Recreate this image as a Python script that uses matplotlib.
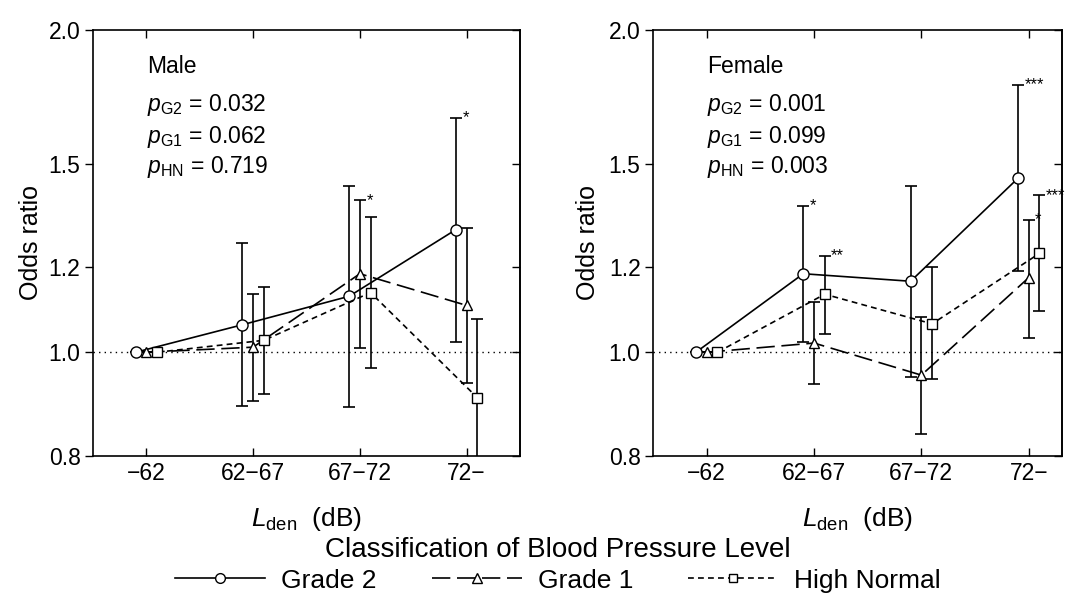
import numpy as np
import matplotlib
matplotlib.use("Agg")
import matplotlib.pyplot as plt
from matplotlib.ticker import FixedLocator, FormatStrFormatter, NullLocator
from matplotlib.lines import Line2D

plt.rcParams['font.family'] = ['Liberation Sans', 'DejaVu Sans']
plt.rcParams['mathtext.fontset'] = 'custom'
plt.rcParams['mathtext.rm'] = 'Liberation Sans'
plt.rcParams['mathtext.it'] = 'Liberation Sans:italic'

# -------------------------------------------
# data (odds ratios)
# -------------------------------------------
categories = ["\u221262", "62\u221267", "67\u221272", "72\u2212"]
series_names = ["Grade 2", "Grade 1", "High Normal"]

# Male
male_g2 = [1.0, 1.061, 1.128, 1.302]
male_g2_lo = [1.0, 0.891, 0.889, 1.022]
male_g2_hi = [1.0, 1.264, 1.431, 1.656]
male_g1 = [1.0, 1.011, 1.184, 1.106]
male_g1_lo = [1.0, 0.901, 1.009, 0.936]
male_g1_hi = [1.0, 1.133, 1.386, 1.307]
male_hn = [1.0, 1.026, 1.137, 0.907]
male_hn_lo = [1.0, 0.914, 0.966, 0.70]
male_hn_hi = [1.0, 1.150, 1.337, 1.073]
male_stars = [["", "", "", "*"], ["", "", "*", ""], ["", "", "", ""]]
male_p = ["0.032", "0.062", "0.719"]

# Female
female_g2 = [1.0, 1.184, 1.165, 1.454]
female_g2_lo = [1.0, 1.022, 0.948, 1.191]
female_g2_hi = [1.0, 1.371, 1.431, 1.776]
female_g1 = [1.0, 1.020, 0.952, 1.174]
female_g1_lo = [1.0, 0.934, 0.839, 1.032]
female_g1_hi = [1.0, 1.114, 1.079, 1.330]
female_hn = [1.0, 1.133, 1.063, 1.237]
female_hn_lo = [1.0, 1.039, 0.944, 1.093]
female_hn_hi = [1.0, 1.231, 1.201, 1.401]
female_stars = [["", "*", "", "***"], ["", "", "", "*"], ["", "**", "", "***"]]
female_p = ["0.001", "0.099", "0.003"]

y_ticks = [0.8, 1.0, 1.2, 1.5, 2.0]

# styles
offsets = [-0.1, 0.0, 0.1]
markers = ['o', '^', 's']
msizes = [8, 7.5, 7]
dash_styles = ['-', (0, (11, 4)), (0, (3.5, 2.5))]
lw = 1.2

fig_w, fig_h = 1071, 605
ax_top, ax_bot = 30, 456


def draw_panel(ax, means, los, his, stars, pvals, title, xmax, width_px, ylab_x):
    x = np.arange(len(categories))
    for i in range(3):
        xs = x + offsets[i]
        m = np.array(means[i])
        lo = np.array(los[i])
        hi = np.array(his[i])
        ax.errorbar(xs, m, yerr=[m - lo, hi - m], fmt='none', ecolor='k',
                    elinewidth=lw, capsize=4.5, capthick=lw, zorder=2)
        ax.plot(xs, m, color='k', lw=lw, linestyle=dash_styles[i],
                marker=markers[i], markersize=msizes[i], markerfacecolor='white',
                markeredgecolor='k', markeredgewidth=1.0, zorder=3)
        for j, s in enumerate(stars[i]):
            if s:
                ax.text(xs[j] + 0.06, hi[j] * 0.991, s, fontsize=12,
                        ha='left', va='baseline')

    ax.axhline(1.0, color='k', lw=1.0, linestyle=(0, (1, 3)), zorder=1)

    ax.set_yscale('log')
    ax.set_ylim(0.8, 2.0)
    ax.yaxis.set_major_locator(FixedLocator(y_ticks))
    ax.yaxis.set_major_formatter(FormatStrFormatter('%.1f'))
    ax.yaxis.set_minor_locator(NullLocator())
    ax.set_xlim(-0.5, xmax)
    ax.set_xticks(x)
    ax.set_xticklabels(categories)

    ax.tick_params(axis='x', direction='in', top=True, bottom=True,
                   length=6, width=1, labelsize=16.5, pad=4)
    ax.tick_params(axis='y', direction='out', left=True, right=False,
                   length=6, width=1, labelsize=16.5, pad=3)
    sec = ax.secondary_yaxis('right')
    sec.yaxis.set_major_locator(FixedLocator(y_ticks))
    sec.yaxis.set_minor_locator(NullLocator())
    sec.tick_params(direction='in', length=6, width=1, labelright=False)
    for sp in ax.spines.values():
        sp.set_linewidth(1.2)
    sec.spines['right'].set_linewidth(1.2)

    ax.set_ylabel("Odds ratio", fontsize=18)
    ax.yaxis.set_label_coords(ylab_x, 0.5)
    ax.set_xlabel(r"$L_{\mathrm{den}}$  (dB)", fontsize=19)
    ax.xaxis.set_label_coords(0.5, -0.115)

    h = ax_bot - ax_top
    tx = 54 / width_px
    ax.text(tx, (ax_bot - 72.7) / h, title, transform=ax.transAxes,
            fontsize=16.5, va='baseline')
    subs = ["G2", "G1", "HN"]
    base_y = [111, 142.7, 173.3]
    for k in range(3):
        ax.text(tx, (ax_bot - base_y[k]) / h,
                r"$p_{\mathrm{" + subs[k] + "}}$ = " + pvals[k],
                transform=ax.transAxes, fontsize=16.5, va='baseline')


fig = plt.figure(figsize=(fig_w / 100, fig_h / 100), dpi=100)
ax1 = fig.add_axes([93 / fig_w, 1 - ax_bot / fig_h, 427 / fig_w, (ax_bot - ax_top) / fig_h])
ax2 = fig.add_axes([653 / fig_w, 1 - ax_bot / fig_h, 409 / fig_w, (ax_bot - ax_top) / fig_h])

draw_panel(ax1, [male_g2, male_g1, male_hn], [male_g2_lo, male_g1_lo, male_hn_lo],
           [male_g2_hi, male_g1_hi, male_hn_hi], male_stars, male_p, "Male",
           3.5, 427, -0.117)
draw_panel(ax2, [female_g2, female_g1, female_hn], [female_g2_lo, female_g1_lo, female_hn_lo],
           [female_g2_hi, female_g1_hi, female_hn_hi], female_stars, female_p, "Female",
           3.31, 409, -0.130)

handles = []
for i in range(3):
    handles.append(Line2D([], [], color='k', lw=lw, linestyle=dash_styles[i],
                          marker=markers[i], markersize=msizes[i] - 1,
                          markerfacecolor='white', markeredgecolor='k'))
fig.legend(handles, series_names, loc='lower center', bbox_to_anchor=(0.521, -0.01),
           ncol=3, frameon=False, fontsize=19, handlelength=3.4, handletextpad=0.6,
           columnspacing=2.1, title="Classification of Blood Pressure Level",
           title_fontsize=20, borderpad=0.2, labelspacing=0.2)

fig.savefig("out.png", dpi=100)
